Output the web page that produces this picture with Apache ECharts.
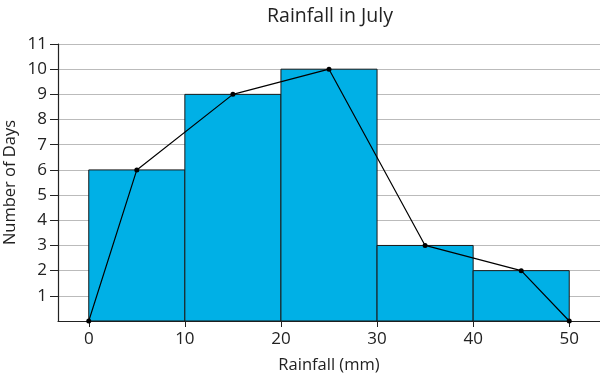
<!DOCTYPE html>
<html><head><meta charset="utf-8">
<script src="https://cdn.jsdelivr.net/npm/echarts@6/dist/echarts.min.js"></script>
<style>html,body{margin:0;padding:0;background:#fff}#c{width:600px;height:375px}</style>
</head><body><div id="c"></div>
<script>
const title = "Rainfall in July";
const xName = "Rainfall (mm)";
const yName = "Number of Days";
const binStarts = [0, 10, 20, 30, 40];
const binEnds = [10, 20, 30, 40, 50];
const counts = [6, 9, 10, 3, 2];
const polyX = [0, 5, 15, 25, 35, 45, 50];
const polyY = [0, 6, 9, 10, 3, 2, 0];
const xTicks = [0, 10, 20, 30, 40, 50];
const yTicks = [1, 2, 3, 4, 5, 6, 7, 8, 9, 10, 11];

const font = "'Open Sans', 'Noto Sans', sans-serif";
const chart = echarts.init(document.getElementById('c'), null, {renderer: 'canvas'});
chart.setOption({
  animation: false,
  title: {text: title, left: 325, top: 1, textAlign: 'center',
    textStyle: {fontFamily: font, fontSize: 19.5, fontWeight: 'normal', color: '#222'}},
  grid: {left: 58, right: 0, top: 44, bottom: 54, containLabel: false, outerBoundsMode: 'none'},
  xAxis: {
    type: 'value', min: -3.2, max: 53.2,
    name: xName, nameLocation: 'middle', nameGap: 36, nameMoveOverlap: false,
    nameTextStyle: {fontFamily: font, fontSize: 16.5, color: '#222'},
    axisLine: {show: true, onZero: false, lineStyle: {color: '#222', width: 1.2}},
    axisTick: {show: true, customValues: xTicks, length: 6, lineStyle: {color: '#222'}},
    axisLabel: {customValues: xTicks, fontFamily: font, fontSize: 17, color: '#222', margin: 10},
    splitLine: {show: false}
  },
  yAxis: {
    type: 'value', min: 0, max: 11, interval: 1,
    name: yName, nameLocation: 'middle', nameGap: 39, nameRotate: 90, nameMoveOverlap: false,
    nameTextStyle: {fontFamily: font, fontSize: 16.5, color: '#222'},
    axisLine: {show: true, onZero: false, lineStyle: {color: '#222', width: 1.2}},
    axisTick: {show: true, customValues: yTicks, length: 8, lineStyle: {color: '#222'}},
    axisLabel: {customValues: yTicks, fontFamily: font, fontSize: 17, color: '#222', margin: 11},
    splitLine: {show: true, lineStyle: {color: '#bbb', width: 1}}
  },
  series: [
    {
      type: 'custom',
      data: binStarts.map((s, i) => [s, binEnds[i], counts[i]]),
      encode: {x: [0, 1], y: 2},
      renderItem: function (params, api) {
        const p0 = api.coord([api.value(0), api.value(2)]);
        const p1 = api.coord([api.value(1), 0]);
        return {
          type: 'rect',
          shape: {x: p0[0], y: p0[1], width: p1[0] - p0[0], height: p1[1] - p0[1]},
          style: {fill: '#00b0e6', stroke: '#1a1a1a', lineWidth: 1}
        };
      },
      z: 2
    },
    {
      type: 'line',
      data: polyX.map((x, i) => [x, polyY[i]]),
      symbol: 'circle', symbolSize: 5,
      itemStyle: {color: '#000'},
      lineStyle: {color: '#000', width: 1.2},
      z: 3
    }
  ]
});
</script></body></html>
